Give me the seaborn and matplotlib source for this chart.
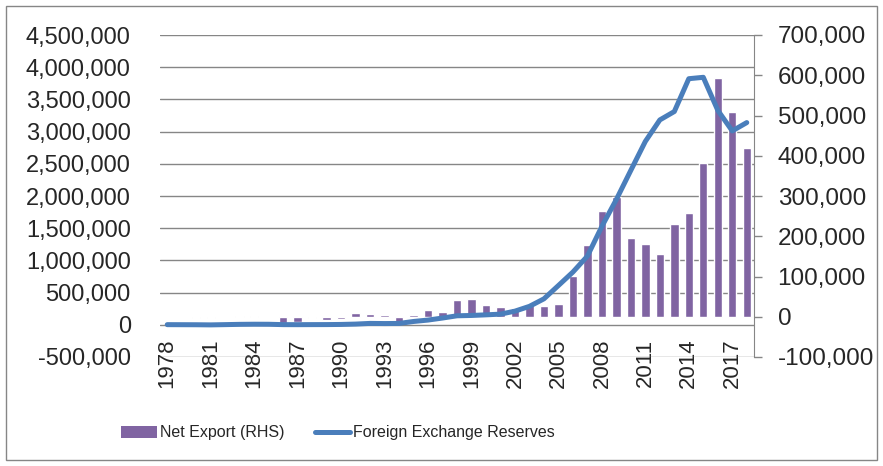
import matplotlib
matplotlib.use("Agg")
import matplotlib.pyplot as plt
from matplotlib.lines import Line2D
from matplotlib.patches import Patch, Rectangle
from matplotlib.ticker import StrMethodFormatter
import seaborn as sns

# categories (one per year) and the two series
years = list(range(1978, 2019))
label_years = years[::3]

# foreign exchange reserves, left axis
fx_reserves = [2345, 1557, 840, -1296, 2708, 6986, 8901, 8220, 2644, 2072,
               2923, 3372, 5550, 11093, 21712, 19443, 21199, 51620, 73597, 105029,
               139890, 144959, 154675, 165574, 212165, 286407, 403251, 609932, 818872, 1066344,
               1528249, 1946030, 2399152, 2847338, 3181148, 3311589, 3821315, 3843018, 3330362, 3010517,
               3139949]

# net export, right axis
net_export = [380, -1140, -2010, -1900, 0, 3030, 840, -1270, -14900, -11970,
              -3770, -7750, -6600, 8740, 8050, 4350, -12220, 5390, 16700, 12200,
              40420, 43470, 29230, 24110, 22550, 30430, 25470, 32100, 102000, 177500,
              261800, 298100, 196100, 181500, 155100, 230300, 259000, 382500, 593900, 509700,
              419600]

BAR = "#8064A2"
LINE = "#4A7EBB"
GRID = "#868686"

sns.set_style("white")
plt.rcParams["font.family"] = ["Liberation Sans", "DejaVu Sans"]
plt.rcParams["axes.unicode_minus"] = False

fig = plt.figure(figsize=(8.83, 4.66), dpi=100)
ax = fig.add_axes([160 / 883, 1 - 357 / 466, 594 / 883, 322 / 466])
ax2 = ax.twinx()   # bars (RHS)
ax3 = ax.twinx()   # line, drawn on top, uses the left scale

sns.barplot(x=years, y=net_export, ax=ax2, color=BAR, saturation=1,
            width=0.58, native_scale=True, errorbar=None)
sns.lineplot(x=years, y=fx_reserves, ax=ax3, color=LINE, linewidth=3.6,
             solid_capstyle="round", solid_joinstyle="round")

# left axis: grid + labels
ax.set_ylim(-500000, 4500000)
ax.set_yticks(range(-500000, 4500001, 500000))
ax.yaxis.set_major_formatter(StrMethodFormatter("{x:,.0f}"))
ax.yaxis.grid(True, color=GRID, lw=1)
ax.xaxis.grid(False)
ax.set_axisbelow(True)
ax.tick_params(axis="y", length=0, pad=21, labelsize=17)
for s in ax.spines.values():
    s.set_visible(False)
ax.spines["bottom"].set_position(("data", 0))

ax.set_xticks(label_years)
ax.set_xticklabels([str(y) for y in label_years], rotation=90)
ax.tick_params(axis="x", length=0, pad=10, labelsize=16)

# right axis
ax2.set_ylim(-100000, 700000)
ax2.set_yticks(range(-100000, 700001, 100000))
ax2.yaxis.set_major_formatter(StrMethodFormatter("{x:,.0f}"))
ax2.tick_params(axis="y", direction="out", length=6, width=1, color=GRID,
                pad=11, labelsize=17.5)
for side in ["top", "left", "bottom"]:
    ax2.spines[side].set_visible(False)
ax2.spines["right"].set_color(GRID)
ax2.set_xlabel("")
ax2.set_ylabel("")

ax3.set_ylim(ax.get_ylim())
ax3.set_axis_off()
ax.set_xlim(years[0] - 0.5, years[-1] + 0.5)

handles = [Patch(facecolor=BAR, edgecolor="none"),
           Line2D([], [], color=LINE, lw=3.6, solid_capstyle="round")]
fig.legend(handles, ["Net Export (RHS)", "Foreign Exchange Reserves"],
           loc="center", bbox_to_anchor=(338 / 883, 1 - 433 / 466), ncol=2,
           frameon=False, fontsize=11.5,
           handlelength=2.2, handletextpad=0.2, columnspacing=1.9)

# chart area border
fig.add_artist(Rectangle((6 / 883, 6 / 466), 871 / 883, 454 / 466,
                         transform=fig.transFigure, fill=False, ec=GRID, lw=1))

fig.savefig("out.png", dpi=100)
plt.close(fig)
